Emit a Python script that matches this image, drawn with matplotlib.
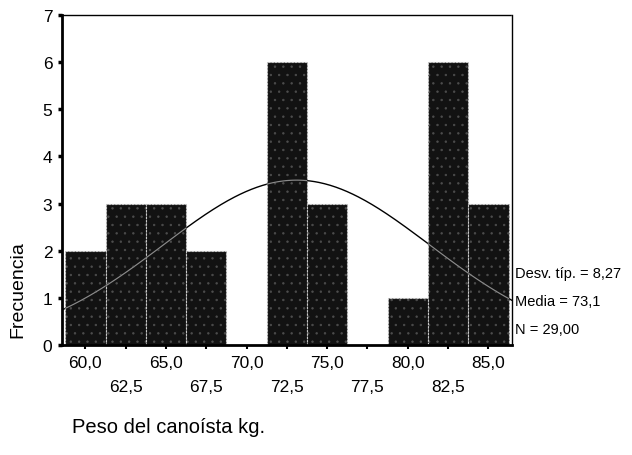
import numpy as np
import matplotlib
matplotlib.use("Agg")
import matplotlib.pyplot as plt

plt.rcParams['font.family'] = ['Liberation Sans', 'DejaVu Sans']
plt.rcParams['hatch.linewidth'] = 0.5

# datos del histograma (centro de clase y frecuencia)
bin_centers = [60.0, 62.5, 65.0, 67.5, 70.0, 72.5, 75.0, 77.5, 80.0, 82.5, 85.0]
counts = [2, 3, 3, 2, 0, 6, 3, 0, 1, 6, 3]
bin_width = 2.5

media = 73.1
desv = 8.27
n = 29

tick_row1 = ["60,0", "65,0", "70,0", "75,0", "80,0", "85,0"]
tick_row2 = ["62,5", "67,5", "72,5", "77,5", "82,5"]

fig = plt.figure(figsize=(6.32, 4.56), dpi=100)
ax = fig.add_axes([0.0981, 0.2412, 0.7116, 0.7237])

bars = ax.bar(bin_centers, counts, width=bin_width, facecolor='#121212',
              edgecolor='#c8c8c8', linewidth=0.8, linestyle=(0, (2, 1)),
              hatch='..', zorder=2)
for b in bars:
    b._hatch_color = (0.3, 0.3, 0.3, 1.0)

# curva normal
xs = np.linspace(58.55, 86.45, 400)
ys = n * bin_width / (desv * np.sqrt(2 * np.pi)) * np.exp(-0.5 * ((xs - media) / desv) ** 2)
ax.plot(xs, ys, color='black', linewidth=1.0, zorder=3)
# parte de la curva sobre las barras, en gris
for c, h in zip(bin_centers, counts):
    m = (xs >= c - bin_width / 2) & (xs <= c + bin_width / 2) & (ys < h)
    if m.any():
        ax.plot(xs[m], ys[m], color='#8a8a8a', linewidth=0.9, zorder=4)

ax.set_xlim(58.55, 86.45)
ax.set_ylim(0, 7)

ax.set_yticks(range(0, 8))
ax.set_yticklabels([str(i) for i in range(0, 8)], fontsize=12.5)
ax.set_xticks(bin_centers)
labels = []
for i in range(len(bin_centers)):
    if i % 2 == 0:
        labels.append(tick_row1[i // 2])
    else:
        labels.append("\n" + tick_row2[i // 2])
ax.set_xticklabels(labels, fontsize=12.5, linespacing=1.75)
ax.tick_params(axis='y', length=3, width=2.5, pad=4)
ax.tick_params(axis='x', length=3, width=1.5, pad=4)

for s in ['left', 'bottom']:
    ax.spines[s].set_linewidth(2)
for s in ['top', 'right']:
    ax.spines[s].set_linewidth(1)
    ax.spines[s].set_linestyle((0, (3, 1)))

fig.text(0.029, 0.364, "Frecuencia", rotation=90, fontsize=14,
         ha='center', va='center')
fig.text(0.114, 0.062, "Peso del canoísta kg.", fontsize=14.5,
         ha='left', va='center')

fig.text(0.815, 0.399, "Desv. típ. = 8,27", fontsize=10.5, ha='left', va='center')
fig.text(0.815, 0.338, "Media = 73,1", fontsize=10.5, ha='left', va='center')
fig.text(0.815, 0.276, "N = 29,00", fontsize=10.5, ha='left', va='center')

fig.savefig("out.png", dpi=100)
